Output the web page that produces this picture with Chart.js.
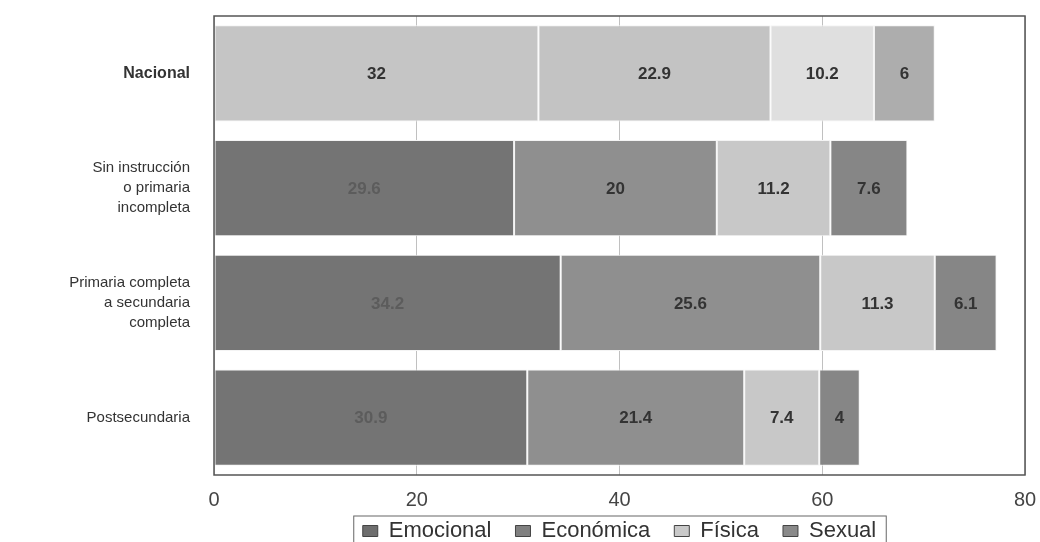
<!DOCTYPE html>
<html>
<head>
<meta charset="utf-8">
<script src="https://cdn.jsdelivr.net/npm/chart.js@4/dist/chart.umd.min.js"></script>
<style>
  html, body { margin: 0; padding: 0; background: #fff; }
  #wrap { width: 1040px; height: 542px; }
</style>
</head>
<body>
<div id="wrap"><canvas id="grafico" width="1040" height="542"></canvas></div>
<script>
// categorias (eje Y)
const categorias = [
  'Nacional',
  ['Sin instrucción', 'o primaria', 'incompleta'],
  ['Primaria completa', 'a secundaria', 'completa'],
  'Postsecundaria'
];

// series
const emocional = [32, 29.6, 34.2, 30.9];
const economica = [22.9, 20, 25.6, 21.4];
const fisica = [10.2, 11.2, 11.3, 7.4];
const sexual = [6, 7.6, 6.1, 4];

const ticksX = [0, 20, 40, 60, 80];

// la fila Nacional va en tonos mas claros
const coloresNacional = ['#c5c5c5', '#c3c3c3', '#dfdfdf', '#adadad'];
const coloresResto = ['#747474', '#8f8f8f', '#c8c8c8', '#868686'];
const coloresLeyenda = ['#6e6e6e', '#808080', '#c9c9c9', '#8a8a8a'];

function coloresSerie(i) {
  return categorias.map((c, k) => k === 0 ? coloresNacional[i] : coloresResto[i]);
}

const series = [
  { label: 'Emocional', data: emocional },
  { label: 'Económica', data: economica },
  { label: 'Física', data: fisica },
  { label: 'Sexual', data: sexual }
];

const fuente = '"Liberation Sans", Arial, sans-serif';

// etiquetas de valor dentro de cada barra
const etiquetasBarras = {
  id: 'etiquetasBarras',
  afterDatasetsDraw(chart) {
    const ctx = chart.ctx;
    ctx.save();
    ctx.font = 'bold 17px ' + fuente;
    ctx.textAlign = 'center';
    ctx.textBaseline = 'middle';
    chart.data.datasets.forEach((ds, i) => {
      chart.getDatasetMeta(i).data.forEach((bar, k) => {
        const v = ds.data[k];
        const x = (bar.x + bar.base) / 2;
        ctx.fillStyle = (i === 0 && k > 0) ? '#5c5c5c' : '#333333';
        ctx.fillText(String(v), x, bar.y + 1);
      });
    });
    ctx.restore();
  }
};

// subir la leyenda y centrarla bajo el area de trazado
const moverLeyenda = {
  id: 'moverLeyenda',
  afterLayout(chart) {
    const lg = chart.legend;
    const subir = 27;
    lg.top -= subir;
    lg.bottom -= subir;
    lg.left = chart.chartArea.left;
    lg.right = chart.chartArea.right;
  }
};

// marco del area de trazado y recuadro de la leyenda
const marco = {
  id: 'marco',
  afterDraw(chart) {
    const ctx = chart.ctx;
    const a = chart.chartArea;
    ctx.save();
    ctx.strokeStyle = '#555';
    ctx.lineWidth = 1.5;
    ctx.strokeRect(a.left, a.top, a.right - a.left, a.bottom - a.top);
    const cajas = chart.legend.legendHitBoxes;
    if (cajas && cajas.length) {
      const x1 = cajas[0].left - 9;
      const x2 = cajas[cajas.length - 1].left + cajas[cajas.length - 1].width + 10;
      const y1 = cajas[0].top - 4;
      ctx.lineWidth = 1;
      ctx.strokeStyle = '#666';
      ctx.strokeRect(x1, y1, x2 - x1, 60);
    }
    ctx.restore();
  }
};

const ctx = document.getElementById('grafico').getContext('2d');
new Chart(ctx, {
  type: 'bar',
  data: {
    labels: categorias,
    datasets: series.map((s, i) => ({
      label: s.label,
      data: s.data,
      backgroundColor: coloresSerie(i),
      borderColor: '#f4f4f4',
      borderWidth: 1,
      borderSkipped: false,
      categoryPercentage: 1,
      barPercentage: 0.84
    }))
  },
  options: {
    indexAxis: 'y',
    responsive: false,
    animation: false,
    layout: {
      padding: { top: 16, right: 15, left: 0, bottom: -37 }
    },
    plugins: {
      legend: {
        display: true,
        position: 'bottom',
        labels: {
          font: { size: 22, family: fuente, lineHeight: 1 },
          color: '#333',
          boxWidth: 15,
          boxHeight: 11,
          padding: 24,
          generateLabels(chart) {
            return chart.data.datasets.map((ds, i) => ({
              text: ds.label,
              fillStyle: coloresLeyenda[i],
              strokeStyle: '#444',
              lineWidth: 1,
              fontColor: '#333',
              datasetIndex: i,
              hidden: false
            }));
          }
        }
      },
      title: { display: false },
      tooltip: { enabled: false }
    },
    scales: {
      x: {
        stacked: true,
        min: 0,
        max: 80,
        afterBuildTicks(scale) {
          scale.ticks = ticksX.map(v => ({ value: v }));
        },
        afterFit(scale) {
          scale.height = 48;
          scale.paddingLeft = 0;
          scale.paddingRight = 0;
        },
        grid: {
          color: '#c0c0c0',
          lineWidth: 1,
          drawTicks: false
        },
        border: { display: false },
        ticks: {
          padding: 13,
          color: '#444',
          font: { size: 20, family: fuente }
        }
      },
      y: {
        stacked: true,
        afterFit(scale) {
          scale.width = 214;
          scale.paddingTop = 0;
          scale.paddingBottom = 0;
        },
        grid: { display: false, drawTicks: false },
        border: { display: false },
        ticks: {
          padding: 24,
          color: '#333',
          font: function(c) {
            return {
              size: c.index === 0 ? 16 : 15,
              family: fuente,
              weight: c.index === 0 ? 'bold' : 'normal',
              lineHeight: 1.33
            };
          }
        }
      }
    }
  },
  plugins: [etiquetasBarras, moverLeyenda, marco]
});
</script>
</body>
</html>
